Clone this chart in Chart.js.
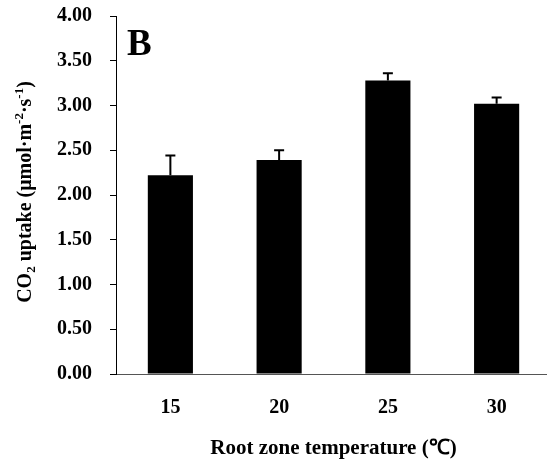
<!DOCTYPE html>
<html lang="en">
<head>
  <meta charset="UTF-8">
  <title>CO2 uptake vs root zone temperature</title>
  <script src="https://cdn.jsdelivr.net/npm/chart.js"></script>
  <style>
    html, body { margin: 0; padding: 0; background: #fff; overflow: hidden; }
    #wrap { width: 551px; height: 465px; }
  </style>
</head>
<body>
<div id="wrap"><canvas id="chart"></canvas></div>

<script>
  // data
  const temperatures = ["15", "20", "25", "30"];
  const uptake = [2.22, 2.39, 3.28, 3.02];
  const uptakeErr = [0.22, 0.11, 0.08, 0.07];
  const panelLabel = "B";

  const serif = "'Liberation Serif', 'Times New Roman', serif";

  // y title pieces: [text, kind]  kind: n = normal, sub, sup
  const yTitleParts = [
    ["CO", "n"], ["2", "sub"], [" uptake (\u03bcmol\u00b7m", "n"],
    ["-2", "sup"], ["\u00b7s", "n"], ["-1", "sup"], [")", "n"]
  ];

  // error bars (upper side only) drawn through the y scale
  const errorBars = {
    id: "errorBars",
    afterDatasetsDraw(chart) {
      const ctx = chart.ctx;
      const y = chart.scales.y;
      const meta = chart.getDatasetMeta(0);
      ctx.save();
      ctx.strokeStyle = "#000";
      ctx.lineWidth = 2;
      meta.data.forEach((bar, i) => {
        const top = y.getPixelForValue(uptake[i] + uptakeErr[i]);
        ctx.beginPath();
        ctx.moveTo(bar.x, bar.y);
        ctx.lineTo(bar.x, top);
        ctx.moveTo(bar.x - 5, top);
        ctx.lineTo(bar.x + 5, top);
        ctx.stroke();
      });
      ctx.restore();
    }
  };

  // panel letter + y title with sub/superscripts
  const extraText = {
    id: "extraText",
    afterDraw(chart) {
      const ctx = chart.ctx;
      const area = chart.chartArea;
      ctx.save();
      ctx.fillStyle = "#000";
      ctx.font = "bold 37px " + serif;
      ctx.textAlign = "left";
      ctx.textBaseline = "alphabetic";
      ctx.fillText(panelLabel, area.left + 11, 55);

      const big = "bold 20px " + serif;
      const small = "bold 13px " + serif;
      let total = 0;
      yTitleParts.forEach(([t, k]) => {
        ctx.font = k === "n" ? big : small;
        total += ctx.measureText(t).width;
      });
      ctx.translate(31, (area.top + area.bottom) / 2 - 3);
      ctx.rotate(-Math.PI / 2);
      let x = -total / 2;
      yTitleParts.forEach(([t, k]) => {
        ctx.font = k === "n" ? big : small;
        const dy = k === "sub" ? 4 : k === "sup" ? -8 : 0;
        ctx.fillText(t, x, dy);
        x += ctx.measureText(t).width;
      });
      ctx.restore();
    }
  };

  new Chart(document.getElementById("chart"), {
    type: "bar",
    data: {
      labels: temperatures,
      datasets: [{
        data: uptake,
        backgroundColor: "#000",
        borderWidth: 0,
        categoryPercentage: 1,
        barPercentage: 0.415
      }]
    },
    options: {
      responsive: true,
      maintainAspectRatio: false,
      animation: false,
      layout: { padding: { top: 16, left: 7, right: 0, bottom: 0 } },
      plugins: { legend: { display: false }, tooltip: { enabled: false } },
      scales: {
        x: {
          grid: { display: true, drawOnChartArea: false, drawTicks: false },
          border: { color: "#555", width: 1 },
          ticks: { color: "#000", padding: 22, font: { family: serif, size: 20, weight: "bold" } },
          title: {
            display: true,
            text: "Root zone temperature (\u2103)",
            color: "#000",
            font: { family: serif, size: 21, weight: "bold" }
          },
          afterFit(scale) {
            scale.height = 91;
            scale.paddingLeft = 0;
            scale.paddingRight = 0;
          }
        },
        y: {
          min: 0,
          max: 4,
          grid: { display: true, drawOnChartArea: false, drawTicks: true, tickLength: 6, color: "#000" },
          border: { color: "#000", width: 1 },
          ticks: {
            stepSize: 0.5,
            color: "#000",
            padding: 18,
            font: { family: serif, size: 20, weight: "bold" },
            callback: v => v.toFixed(2)
          },
          afterFit(scale) {
            scale.width = 109;
            scale.paddingTop = 0;
            scale.paddingBottom = 0;
          }
        }
      }
    },
    plugins: [errorBars, extraText]
  });
</script>
</body>
</html>
